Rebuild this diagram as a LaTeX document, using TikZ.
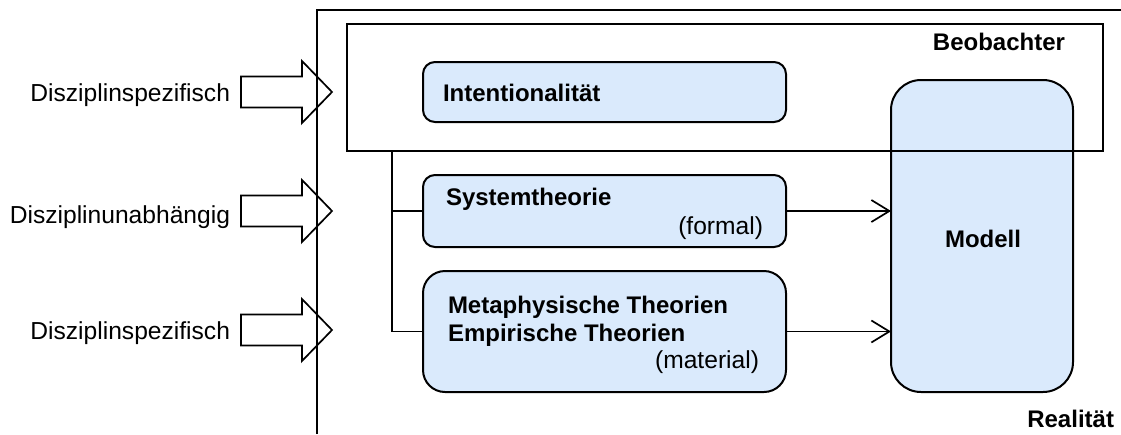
\documentclass[tikz,border=0pt]{standalone}
\usepackage{fontspec}
\setmainfont{Liberation Sans}
\usetikzlibrary{arrows.meta}
\definecolor{boxfill}{RGB}{218,234,252}
\tikzset{
  every node/.style={font=\fontsize{24}{28}\selectfont, inner sep=0pt, outer sep=0pt},
  thick line/.style={line width=2pt, draw=black},
  theorybox/.style={thick line, fill=boxfill, minimum width=363pt},
  plainlabel/.style={font=\fontsize{24.6}{28}\selectfont},
  boldlabel/.style={font=\fontsize{24}{28}\selectfont\bfseries},
  link/.style={line width=1.7pt, draw=black},
  feed/.style={link, -{Straight Barb[length=18pt,width=22pt,line width=1.7pt]}},
  pics/blockarrow/.style={code={
    \draw[line width=1.7pt] (0,-15.5) -- (61,-15.5) -- (61,-31) -- (91,0)
      -- (61,31) -- (61,15.5) -- (0,15.5) -- cycle;}}
}
\begin{document}
\begin{tikzpicture}[x=1pt, y=-1pt]
\useasboundingbox (0,0) rectangle (1121,434);

% Reality frame: open on the right and at the bottom
\coordinate (frameTL) at (317,10);
\draw[thick line] (317,434) -- (frameTL) -- (1121,10);

% Model (drawn first so the observer frame lies over it)
\node[thick line, fill=boxfill, rounded corners=30pt, minimum width=182pt, minimum height=312pt] (modell) at (982,236) {};
\node[boldlabel, anchor=base] (modelltxt) at (983,247) {Modell};

% Observer frame
\node[thick line, minimum width=756pt, minimum height=127pt] (beob) at (725,87.5) {};
\node[boldlabel, anchor=base east] (beobtxt) at (1065,50) {Beobachter};

% Theory boxes
\node[theorybox, rounded corners=12pt, minimum height=60pt] (intent) at (604.5,92) {};
\node[boldlabel, anchor=base west] (intenttxt) at (443,101) {Intentionalität};

\node[theorybox, rounded corners=12pt, minimum height=72pt] (sys) at (604.5,211) {};
\node[boldlabel, anchor=base west] (systxt) at (446,205) {Systemtheorie};
\node[plainlabel, anchor=base east] (formal) at (763,234) {(formal)};

\node[theorybox, rounded corners=22pt, minimum height=121pt] (meta) at (604.5,331.5) {};
\node[boldlabel, anchor=base west] (metatxt) at (448,313) {Metaphysische Theorien};
\node[boldlabel, anchor=base west] (emptxt) at (448,341) {Empirische Theorien};
\node[plainlabel, anchor=base east] (material) at (759,368) {(material)};

% Trunk from the observer to the theory boxes
\coordinate (trunk) at (392,0);
\draw[link] (beob.south -| trunk) |- (meta.west);
\draw[link] (trunk |- sys.west) -- (sys.west);

% Feeds into the model
\draw[feed] (sys.east) -- (sys.east -| modell.west);
\draw[feed] (meta.east) -- (meta.east -| modell.west);

% Inputs from outside
\pic at (241,92) {blockarrow};
\pic at (241,211) {blockarrow};
\pic at (241,330) {blockarrow};
\node[plainlabel, anchor=base east] (in1) at (230,101) {Disziplinspezifisch};
\node[plainlabel, anchor=base east] (in2) at (230,223) {Disziplinunabhängig};
\node[plainlabel, anchor=base east] (in3) at (230,339) {Disziplinspezifisch};

\node[boldlabel, anchor=base east] (real) at (1114,427) {Realität};
\end{tikzpicture}
\end{document}
